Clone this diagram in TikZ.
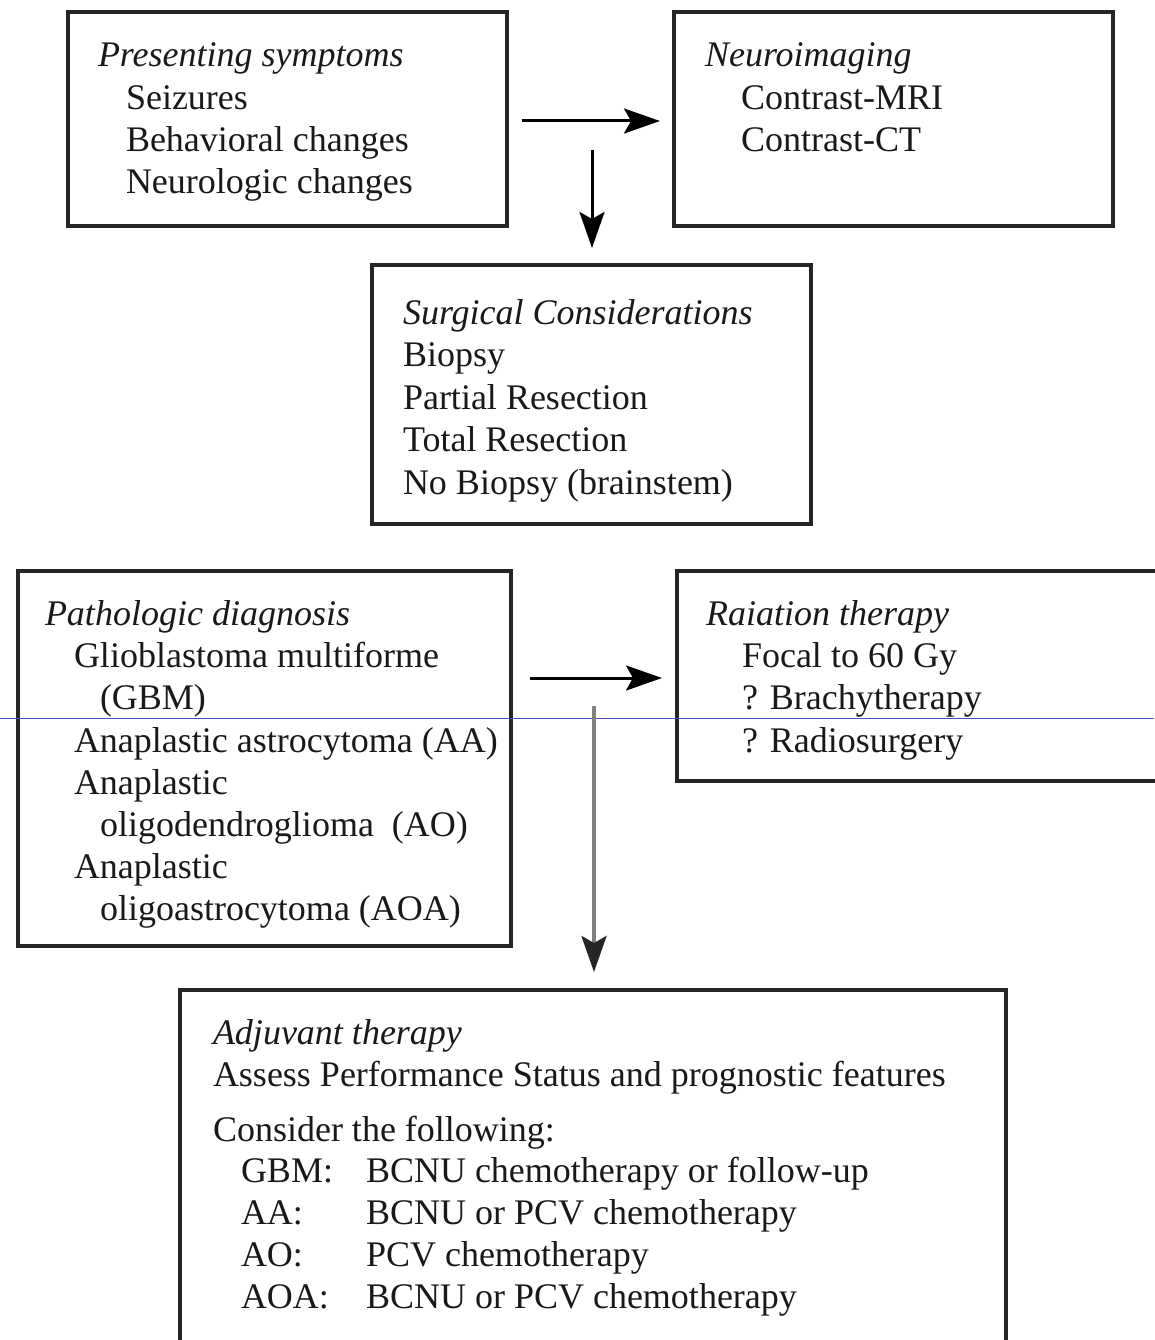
\documentclass[tikz,border=0pt]{standalone}
\usepackage{fontspec}
\setmainfont{Liberation Serif}
\usetikzlibrary{arrows.meta}
\begin{document}
\begin{tikzpicture}[x=1pt,y=-1pt,
  box/.style={draw=black!85,line width=3.2pt,inner sep=0pt,outer sep=0pt,anchor=north west,rectangle},
  txt/.style={anchor=base west,inner sep=0pt,outer sep=0pt,text=black!90,font=\fontsize{36}{42}\selectfont},
  ttl/.style={anchor=base west,inner sep=0pt,outer sep=0pt,text=black!90,font=\fontsize{36}{42}\selectfont\itshape},
  arr/.style={line width=3pt,-{Stealth[length=36pt,width=25pt,inset=7pt]}},
  grayarr/.style={line width=4pt,draw=black!50,-{Stealth[length=36pt,width=25pt,inset=7pt,color=black!85]}}]
\useasboundingbox (0,0) rectangle (1154,1340);
\fill[white] (0,0) rectangle (1154,1340);

% boxes
\node[box,minimum width=439pt,minimum height=214pt] (b1) at (68,12) {};
\node[box,minimum width=439pt,minimum height=214pt] (b2) at (674,12) {};
\node[box,minimum width=439pt,minimum height=259pt] (b3) at (372,265) {};
\node[box,minimum width=493pt,minimum height=375pt] (b4) at (18,571) {};
\node[box,minimum width=500pt,minimum height=210pt] (b5) at (677,571) {};
\node[box,minimum width=826pt,minimum height=380pt] (b6) at (180,990) {};

% scan line
\coordinate (sl0) at (0,718);
\coordinate (sl1) at (1154,718);
\draw[blue!60!black!70,line width=0.8pt] (sl0) -- (sl1);

% box 1
\node[ttl] (t1a) at (98,67) {Presenting symptoms};
\node[txt] (t1b) at (126,110) {Seizures};
\node[txt] (t1c) at (126,152) {Behavioral changes};
\node[txt] (t1d) at (126,194) {Neurologic changes};

% box 2
\node[ttl] (t2a) at (705,67) {Neuroimaging};
\node[txt] (t2b) at (741,110) {Contrast-MRI};
\node[txt] (t2c) at (741,152) {Contrast-CT};

% box 3
\node[ttl] (t3a) at (403,324) {Surgical Considerations};
\node[txt] (t3b) at (403,366) {Biopsy};
\node[txt] (t3c) at (403,409) {Partial Resection};
\node[txt] (t3d) at (403,451) {Total Resection};
\node[txt] (t3e) at (403,494) {No Biopsy (brainstem)};

% box 4
\node[ttl] (t4a) at (45,625) {Pathologic diagnosis};
\node[txt] (t4b) at (74,667) {Glioblastoma multiforme};
\node[txt] (t4c) at (100,709) {(GBM)};
\node[txt] (t4d) at (74,752) {Anaplastic astrocytoma (AA)};
\node[txt] (t4e) at (74,794) {Anaplastic};
\node[txt] (t4f) at (100,836) {oligodendroglioma\ \ (AO)};
\node[txt] (t4g) at (74,878) {Anaplastic};
\node[txt] (t4h) at (100,920) {oligoastrocytoma (AOA)};

% box 5
\node[ttl] (t5a) at (706,625) {Raiation therapy};
\node[txt] (t5b) at (742,667) {Focal to 60 Gy};
\node[txt] (t5c) at (742,709) {? Brachytherapy};
\node[txt] (t5d) at (742,752) {? Radiosurgery};

% box 6
\node[ttl] (t6a) at (213,1044) {Adjuvant therapy};
\node[txt] (t6b) at (213,1086) {Assess Performance Status and prognostic features};
\node[txt] (t6c) at (213,1141) {Consider the following:};
\node[txt] (t6d) at (241,1182) {GBM:};
\node[txt] (t6e) at (366,1182) {BCNU chemotherapy or follow-up};
\node[txt] (t6f) at (241,1224) {AA:};
\node[txt] (t6g) at (366,1224) {BCNU or PCV chemotherapy};
\node[txt] (t6h) at (241,1266) {AO:};
\node[txt] (t6i) at (366,1266) {PCV chemotherapy};
\node[txt] (t6j) at (241,1308) {AOA:};
\node[txt] (t6k) at (366,1308) {BCNU or PCV chemotherapy};

% arrows
\coordinate (a1s) at (522,121);
\coordinate (a1e) at (660,121);
\coordinate (a2s) at (592,150);
\coordinate (a2e) at (592,248);
\coordinate (a3s) at (530,678);
\coordinate (a3e) at (662,678);
\coordinate (a4s) at (594,706);
\coordinate (a4e) at (594,972);
\draw[arr] (a1s) -- (a1e);
\draw[arr] (a2s) -- (a2e);
\draw[arr] (a3s) -- (a3e);
\draw[grayarr] (a4s) -- (a4e);
\end{tikzpicture}
\end{document}
